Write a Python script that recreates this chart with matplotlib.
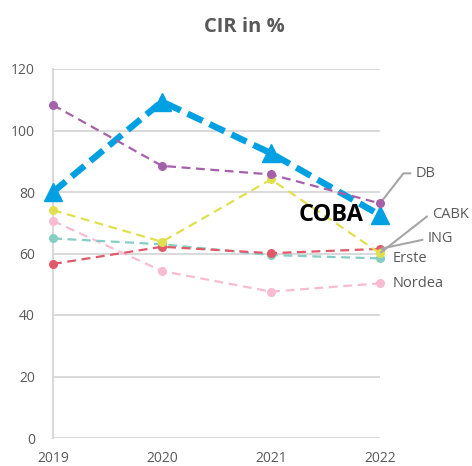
import matplotlib
matplotlib.use("Agg")
import matplotlib.pyplot as plt

plt.rcParams['font.family'] = ['Open Sans', 'DejaVu Sans']

years = ["2019", "2020", "2021", "2022"]
coba = [80.0, 109.4, 92.6, 72.5]
db = [108.3, 88.5, 85.7, 76.3]
cabk = [74.1, 63.8, 84.1, 60.1]
ing = [56.6, 62.2, 60.1, 61.5]
erste = [64.9, 63.0, 59.5, 58.4]
nordea = [70.6, 54.3, 47.6, 50.3]
yticks = [0, 20, 40, 60, 80, 100, 120]

W, H = 472, 466
fig = plt.figure(figsize=(W / 100, H / 100), dpi=100)
ax = fig.add_axes([53 / W, 1 - 438 / H, (380 - 53) / W, (438 - 69) / H])

x = list(range(len(years)))
grid_c = "#d9d9d9"
txt_c = "#595959"

ax.set_xlim(0, 3)
ax.set_ylim(0, 120)
ax.set_yticks(yticks)
ax.set_xticks(x)
ax.set_xticklabels(years)
for s in ["top", "right", "bottom"]:
    ax.spines[s].set_visible(False)
ax.spines["left"].set_color(grid_c)
ax.spines["left"].set_linewidth(1.5)
ax.yaxis.grid(True, color=grid_c, linewidth=1.4)
ax.set_axisbelow(True)
ax.tick_params(axis="both", length=0, labelsize=10, labelcolor=txt_c)
ax.tick_params(axis="y", pad=13)
ax.tick_params(axis="x", pad=9)

series = [
    (nordea, "#f7bcd2"),
    (erste, "#86cdc4"),
    (ing, "#e05a6a"),
    (cabk, "#e0e04e"),
]
for vals, col in series:
    ax.plot(x, vals, color=col, linestyle=(0, (4, 2.5)), linewidth=1.6,
            marker="o", markersize=5.5, clip_on=False, zorder=3)

ax.plot(x, coba, color="#00a0e3", linestyle=(0, (2.6, 1.2)), linewidth=4.6,
        marker="^", markersize=12.5, clip_on=False, zorder=4)
ax.plot(x, db, color="#a661ab", linestyle=(0, (4, 2.5)), linewidth=1.6,
        marker="o", markersize=5.5, clip_on=False, zorder=5)

ax.annotate("COBA", xy=(3, coba[-1]), xytext=(-17, 0), textcoords="offset pixels",
            ha="right", va="center", fontsize=17, fontweight="bold", color="black",
            zorder=6)

lead_c = "#a6a6a6"
def leader(label, yval, dx, dy, angB):
    ax.annotate(label, xy=(3, yval), xytext=(dx, dy), textcoords="offset pixels",
                ha="left", va="center", fontsize=10.5, color=txt_c,
                annotation_clip=False,
                arrowprops=dict(arrowstyle="-", color=lead_c, linewidth=1.5,
                                connectionstyle=f"angle,angleA=180,angleB={angB},rad=0",
                                relpos=(0, 0.5), shrinkA=2, shrinkB=1))

leader("DB", db[-1], 36, 30, 180 + 52)
leader("CABK", cabk[-1], 52, 39, 180 + 38)
leader("ING", ing[-1], 48, 10, 180 + 12)

ax.annotate("Erste", xy=(3, erste[-1]), xytext=(13, 0), textcoords="offset pixels",
            ha="left", va="center", fontsize=10.5, color=txt_c, annotation_clip=False)
ax.annotate("Nordea", xy=(3, nordea[-1]), xytext=(13, 0), textcoords="offset pixels",
            ha="left", va="center", fontsize=10.5, color=txt_c, annotation_clip=False)

fig.text(244 / W, 1 - 27 / H, "CIR in %", ha="center", va="center",
         fontsize=14.5, fontweight="bold", color=txt_c)

fig.savefig("out.png", dpi=100)
